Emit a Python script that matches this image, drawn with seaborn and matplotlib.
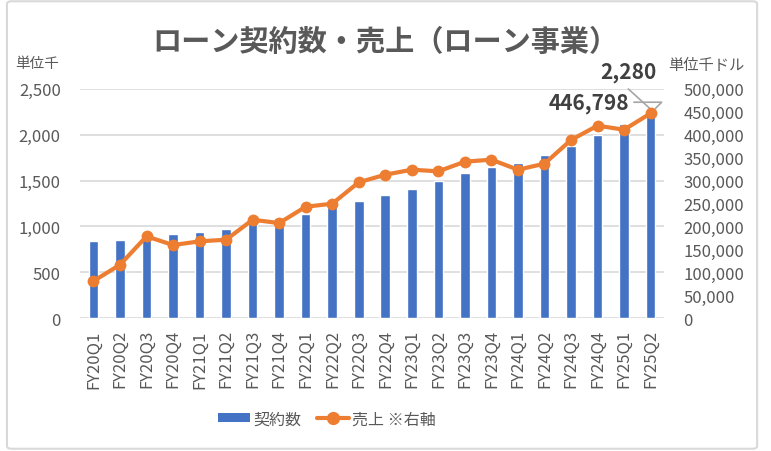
import numpy as np
import pandas as pd
import matplotlib
matplotlib.use('Agg')
import matplotlib.pyplot as plt
from matplotlib.patches import Patch, FancyBboxPatch
from matplotlib.lines import Line2D
from matplotlib import ticker
import seaborn as sns

sns.set_theme(style='white')
plt.rcParams['font.family'] = ['Noto Sans CJK JP', 'DejaVu Sans']

# data
quarters = ['FY20Q1', 'FY20Q2', 'FY20Q3', 'FY20Q4', 'FY21Q1', 'FY21Q2', 'FY21Q3', 'FY21Q4',
            'FY22Q1', 'FY22Q2', 'FY22Q3', 'FY22Q4', 'FY23Q1', 'FY23Q2', 'FY23Q3', 'FY23Q4',
            'FY24Q1', 'FY24Q2', 'FY24Q3', 'FY24Q4', 'FY25Q1', 'FY25Q2']
contracts = [840, 855, 880, 917, 942, 972, 1040, 1090,
             1135, 1208, 1277, 1340, 1410, 1500, 1583, 1652,
             1692, 1780, 1881, 1998, 2118, 2280]
sales = [80800, 116400, 178400, 159400, 167500, 171000, 214600, 207400,
         243000, 249600, 296300, 312900, 323800, 320300, 341300, 345700,
         323800, 336900, 388600, 419900, 411100, 446798]

blue = '#4472C4'
orange = '#ED7D31'
gray = '#595959'

df = pd.DataFrame({'quarter': quarters, 'contracts': contracts, 'sales': sales})
df['pos'] = np.arange(len(df))

fig = plt.figure(figsize=(7.71, 4.52), dpi=100)
ax = fig.add_axes([0.104, 0.294, 0.757, 0.507])

sns.barplot(data=df, x='quarter', y='contracts', color=blue, width=0.36,
            saturation=1, ax=ax, zorder=2)
ax.set_ylim(0, 2500)
ax.yaxis.set_major_locator(ticker.MultipleLocator(500))
ax.yaxis.set_major_formatter(ticker.StrMethodFormatter('{x:,.0f}'))
ax.grid(axis='y', color='#D9D9D9', linewidth=1.2, zorder=0)
ax.set_axisbelow(True)
ax.set_xlim(-0.5, len(df) - 0.5)
ax.set_xlabel('')
ax.set_ylabel('')
for s in ax.spines.values():
    s.set_visible(False)
ax.tick_params(axis='x', labelrotation=90, labelsize=12, colors=gray, length=0, pad=8)
ax.tick_params(axis='y', labelsize=12, colors=gray, length=0, pad=14)

ax2 = ax.twinx()
sns.lineplot(data=df, x='pos', y='sales', color=orange, linewidth=3, marker='o',
             markersize=8.5, markeredgewidth=0, ax=ax2, zorder=3)
ax2.set_ylim(0, 500000)
ax2.yaxis.set_major_locator(ticker.MultipleLocator(50000))
ax2.yaxis.set_major_formatter(ticker.StrMethodFormatter('{x:,.0f}'))
ax2.set_xlim(-0.5, len(df) - 0.5)
ax2.set_xlabel('')
ax2.set_ylabel('')
for s in ax2.spines.values():
    s.set_visible(False)
ax2.tick_params(axis='y', labelsize=12, colors=gray, length=0, pad=14)

# value callouts on the last quarter
last = len(df) - 1
ax.annotate(f'{contracts[-1]:,}', xy=(last, contracts[-1]), xytext=(4, 27),
            textcoords='offset points', ha='right', va='center', fontsize=15,
            fontweight='bold', color='#404040')
ax.annotate('', xy=(last, contracts[-1]), xytext=(-16, 14.5),
            textcoords='offset points',
            arrowprops=dict(arrowstyle='-', color='#A6A6A6', lw=1.2, shrinkA=0, shrinkB=0))
ax2.annotate(f'{sales[-1]:,}', xy=(last, sales[-1]), xytext=(-15, 8),
             textcoords='offset points', ha='right', va='center', fontsize=15,
             fontweight='bold', color='#404040')
ax2.annotate('', xy=(last, sales[-1]), xytext=(-12, 8),
             textcoords='offset points',
             arrowprops=dict(arrowstyle='-', color='#A6A6A6', lw=1.2, shrinkA=0, shrinkB=5,
                             connectionstyle='angle,angleA=0,angleB=45,rad=0'))

fig.text(0.5, 0.906, 'ローン契約数・売上（ローン事業）', ha='center', va='center',
         fontsize=21, fontweight='bold', color=gray)
fig.text(0.02, 0.858, '単位千', ha='left', va='center', fontsize=10.5, color=gray)
fig.text(0.866, 0.856, '単位千ドル', ha='left', va='center', fontsize=11, color=gray)

handles = [Patch(facecolor=blue, edgecolor='none'),
           Line2D([], [], color=orange, linewidth=3, marker='o', markersize=8.5)]
fig.legend(handles, ['契約数', '売上 ※右軸'], loc='center', bbox_to_anchor=(0.424, 0.071),
           ncol=2, frameon=False, fontsize=11.5, handlelength=2.0, handleheight=0.45,
           columnspacing=1.0, handletextpad=0.2, labelcolor=gray)

fig.patches.append(FancyBboxPatch((0.009, 0.005), 0.973, 0.99, boxstyle='round,pad=0,rounding_size=0.006',
                                  transform=fig.transFigure, fill=False, edgecolor='#D9D9D9', linewidth=1.5))

fig.savefig('out.png', dpi=100)
